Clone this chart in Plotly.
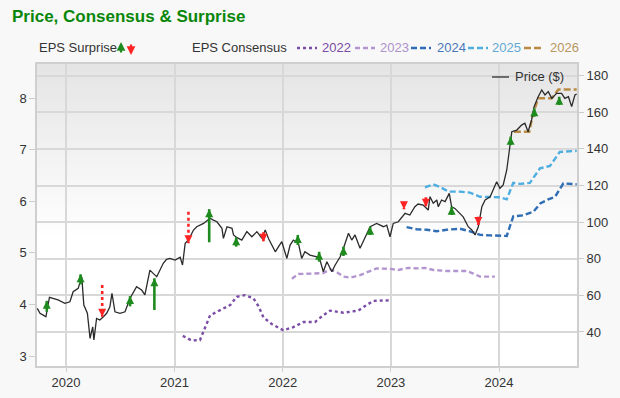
import plotly.graph_objects as go

# ---------------- data ----------------
price_dates = ["2019-09-26","2019-10-05","2019-10-16","2019-10-25","2019-11-06","2019-11-19","2019-12-05","2019-12-28",
 "2020-01-14","2020-01-25","2020-02-11","2020-02-23","2020-03-01","2020-03-13","2020-03-22","2020-03-31","2020-04-04",
 "2020-04-13","2020-04-24","2020-05-06","2020-05-17","2020-05-28","2020-06-04","2020-06-14","2020-07-01","2020-07-18",
 "2020-08-04","2020-08-26","2020-09-12","2020-09-23","2020-10-10","2020-10-21","2020-11-02","2020-11-24","2020-12-05",
 "2020-12-16","2021-01-03","2021-01-20","2021-01-28","2021-02-06","2021-02-17","2021-03-06","2021-03-17","2021-04-09",
 "2021-05-01","2021-05-12","2021-05-24","2021-06-10","2021-06-15","2021-06-27","2021-07-14","2021-07-19","2021-07-31",
 "2021-08-16","2021-09-02","2021-09-19","2021-10-06","2021-10-23","2021-11-03","2021-11-14","2021-11-26","2021-12-07",
 "2021-12-18","2021-12-29","2022-01-15","2022-01-26","2022-02-06","2022-02-23","2022-03-06","2022-03-17","2022-04-03",
 "2022-04-26","2022-05-07","2022-05-18","2022-05-30","2022-06-16","2022-06-27","2022-07-14","2022-07-25","2022-08-11",
 "2022-08-22","2022-09-02","2022-09-19","2022-10-06","2022-10-23","2022-11-14","2022-12-07","2022-12-18","2022-12-29",
 "2023-01-09","2023-01-26","2023-02-18","2023-03-06","2023-03-23","2023-04-03","2023-04-20","2023-05-07","2023-05-13",
 "2023-05-24","2023-06-05","2023-06-10","2023-06-21","2023-07-03","2023-07-17","2023-07-25","2023-08-05","2023-08-22",
 "2023-09-02","2023-09-19","2023-10-01","2023-10-12","2023-10-23","2023-11-04","2023-11-15","2023-12-02","2023-12-13",
 "2023-12-24","2024-01-04","2024-01-15","2024-01-27","2024-02-07","2024-02-13","2024-03-01","2024-03-17","2024-03-28",
 "2024-04-08","2024-04-20","2024-04-28","2024-05-12","2024-05-24","2024-06-04","2024-06-15","2024-06-27","2024-07-13",
 "2024-07-30","2024-08-10","2024-08-22","2024-09-02","2024-09-13","2024-09-19"]
price_values = [52.9,50.2,49.2,48.3,58.9,58.4,57.5,55.6,
 56.5,62.0,63.8,70.2,54.7,50.2,36.5,42.8,35.6,
 47.4,46.5,48.3,50.2,53.8,61.1,51.0,50.2,51.0,
 58.4,64.7,62.9,60.2,73.8,72.0,70.2,77.5,79.7,
 80.2,79.3,80.8,76.6,88.4,90.2,95.7,97.5,99.3,
 102.1,101.1,100.2,96.6,91.1,97.5,96.6,93.0,91.5,
 90.2,94.8,92.0,94.8,91.1,95.7,91.1,87.5,83.8,
 86.6,89.3,80.2,87.5,90.2,88.4,80.2,83.8,82.0,
 81.0,79.3,72.9,78.4,72.9,76.6,81.1,85.7,93.9,
 90.2,93.0,85.7,92.0,97.5,99.3,97.5,98.4,92.0,
 99.3,100.2,104.8,103.9,108.4,109.9,109.3,106.6,113.9,
 110.3,112.1,108.4,112.1,111.2,115.7,108.4,107.5,104.8,
 102.9,97.5,95.7,93.0,97.5,108.4,112.1,113.9,117.6,
 122.1,118.5,120.3,128.5,143.1,149.4,150.3,153.0,154.0,
 149.4,156.0,163.0,168.5,172.2,169.5,171.3,167.6,170.4,
 170.4,167.6,168.5,163.1,169.5,170.0]

surprise_dates = ["2019-10-28","2020-02-19","2020-05-02","2020-08-04","2020-10-25","2021-02-17","2021-04-28",
 "2021-07-28","2021-10-28","2022-02-21","2022-05-04","2022-07-25","2022-10-23","2023-02-14","2023-04-29",
 "2023-07-25","2023-10-23","2024-02-09","2024-04-29","2024-07-22"]
surprise_from = [51.0,66.0,65.6,54.0,52.0,105.7,89.0,86.6,94.5,87.5,78.4,81.5,93.0,111.1,113.6,103.9,102.9,142.1,157.6,164.0]
surprise_to = [57.0,71.5,48.3,59.6,69.3,88.4,107.1,91.7,89.3,93.0,83.8,86.6,97.5,107.0,108.4,108.4,98.4,146.7,162.2,168.5]

c2022_dates = ["2021-01-29","2021-02-28","2021-03-28","2021-04-14","2021-05-01","2021-06-04","2021-07-08","2021-07-30",
 "2021-08-27","2021-09-24","2021-10-11","2021-10-28","2021-11-25","2022-01-03","2022-02-06","2022-03-12","2022-04-20",
 "2022-05-18","2022-06-10","2022-07-25","2022-09-13","2022-10-06","2022-11-03","2022-12-29"]
c2022_values = [3.39,3.30,3.31,3.55,3.79,3.89,3.99,4.15,4.18,4.12,3.97,3.75,3.62,3.50,3.56,3.66,3.66,3.79,3.88,3.84,3.88,3.97,4.07,4.08]

c2023_dates = ["2022-02-01","2022-02-23","2022-04-14","2022-05-18","2022-06-10","2022-07-02","2022-07-25","2022-08-16",
 "2022-09-19","2022-10-23","2022-11-14","2022-12-29","2023-01-26","2023-03-01","2023-03-29","2023-04-26","2023-05-24",
 "2023-07-08","2023-09-14","2023-10-06","2023-10-29","2023-12-18"]
c2023_values = [4.50,4.59,4.60,4.61,4.68,4.63,4.54,4.52,4.57,4.65,4.70,4.69,4.67,4.71,4.70,4.71,4.67,4.65,4.65,4.60,4.54,4.54]

c2024_dates = ["2023-02-23","2023-03-29","2023-05-02","2023-06-05","2023-07-08","2023-08-22","2023-09-25","2023-10-29",
 "2023-12-01","2024-01-27","2024-02-18","2024-03-23","2024-04-26","2024-05-19","2024-06-15","2024-07-08","2024-08-05","2024-09-19"]
c2024_values = [5.50,5.46,5.45,5.42,5.45,5.47,5.42,5.35,5.34,5.33,5.71,5.73,5.80,5.96,6.04,6.09,6.35,6.33]

c2025_dates = ["2023-04-26","2023-05-24","2023-06-16","2023-07-14","2023-08-22","2023-09-25","2023-10-29","2023-12-01",
 "2024-01-04","2024-01-27","2024-02-18","2024-03-12","2024-04-14","2024-05-18","2024-06-21","2024-07-24","2024-09-19"]
c2025_values = [6.27,6.33,6.28,6.19,6.19,6.17,6.09,6.09,6.08,6.04,6.36,6.34,6.36,6.64,6.69,6.96,6.98]

c2026_dates = ["2024-02-20","2024-04-12","2024-04-24","2024-05-12","2024-06-27","2024-07-19","2024-09-19"]
c2026_values = [7.35,7.35,7.68,8.00,8.00,8.17,8.17]

eps_ticks = [3, 4, 5, 6, 7, 8]
price_ticks = [40, 60, 80, 100, 120, 140, 160, 180]
year_ticks = ["2020-01-01", "2021-01-01", "2022-01-01", "2023-01-01", "2024-01-01"]
year_labels = ["2020", "2021", "2022", "2023", "2024"]

# ---------------- styling ----------------
FONT = "Liberation Sans, Arial, sans-serif"
GREEN = "#1f8b1f"
RED = "#ff2424"
cons = [
    ("2022", c2022_dates, c2022_values, "#7a4ca5", "#7a4ca5", "dot"),
    ("2023", c2023_dates, c2023_values, "#b395d0", "#ad92cb", "5px,3px"),
    ("2024", c2024_dates, c2024_values, "#2f6db5", "#4a78b8", "6px,3px"),
    ("2025", c2025_dates, c2025_values, "#4eaee0", "#64a9d4", "6px,3px"),
    ("2026", c2026_dates, c2026_values, "#b98a44", "#b99561", "7px,3px"),
]

L, R, T, B = 37, 43, 64, 32
W, H = 620, 398
PW, PH = W - L - R, H - T - B
def px(x):
    return (x - L) / PW
def py(y):
    return (H - B - y) / PH

fig = go.Figure()

for name, d, v, col, tcol, dash in cons:
    fig.add_trace(go.Scatter(x=d, y=v, mode="lines", yaxis="y", line=dict(color=col, width=2.4, dash=dash),
                             showlegend=False, hoverinfo="skip"))

fig.add_trace(go.Scatter(x=price_dates, y=price_values, mode="lines", yaxis="y2",
                         line=dict(color="#2b2b2b", width=1.3), showlegend=False))

for d, a, b in zip(surprise_dates, surprise_from, surprise_to):
    up = b > a
    col = GREEN if up else RED
    fig.add_trace(go.Scatter(x=[d, d], y=[a, b], mode="lines", yaxis="y2",
                             line=dict(color=col, width=2.6, dash="solid" if up else "dot"),
                             showlegend=False, hoverinfo="skip"))
    fig.add_trace(go.Scatter(x=[d], y=[b], mode="markers", yaxis="y2",
                             marker=dict(symbol="arrow-up" if up else "arrow-down", size=8, angle=0,
                                         color=col, line=dict(width=0)),
                             showlegend=False, hoverinfo="skip"))

shapes = []
# vertical gray gradient in plot background
N = 40
top, bottom = 1.0, 0.42
for i in range(N):
    f = i / (N - 1)
    c = int(0xe5 + (0xff - 0xe5) * f)
    y1 = top - (top - bottom) * i / N
    y0 = top - (top - bottom) * (i + 1) / N
    shapes.append(dict(type="rect", xref="paper", yref="paper", x0=0, x1=1, y0=y0, y1=y1 + 0.002,
                       fillcolor=f"rgb({c},{c},{c})", line=dict(width=0), layer="below"))

annotations = [
    dict(text="<b>Price, Consensus & Surprise</b>", xref="paper", yref="paper", x=px(10), y=py(17),
         xanchor="left", yanchor="middle", showarrow=False, font=dict(family=FONT, size=17, color="#0a870a")),
    dict(text="EPS Surprise", xref="paper", yref="paper", x=px(37), y=py(48), xanchor="left", yanchor="middle",
         showarrow=False, font=dict(family=FONT, size=13, color="#333")),
    dict(text="", xref="paper", yref="paper", x=px(121), y=py(42), ax=0, ay=12, showarrow=True,
         arrowhead=2, arrowsize=0.8, arrowwidth=2.2, arrowcolor=GREEN),
    dict(text="", xref="paper", yref="paper", x=px(131), y=py(55), ax=0, ay=-12, showarrow=True,
         arrowhead=2, arrowsize=0.8, arrowwidth=2.2, arrowcolor=RED),
    dict(text="EPS Consensus", xref="paper", yref="paper", x=px(190), y=py(48), xanchor="left", yanchor="middle",
         showarrow=False, font=dict(family=FONT, size=13, color="#333")),
    dict(text="Price ($)", xref="paper", yref="paper", x=px(513), y=py(76), xanchor="left", yanchor="middle",
         showarrow=False, font=dict(family=FONT, size=13, color="#333")),
]
shapes.append(dict(type="line", xref="paper", yref="paper", x0=px(492), x1=px(509), y0=py(77), y1=py(77),
                   line=dict(color="#444", width=1.5)))

leg_pos = [(297, 320), (355, 378), (411, 435), (468, 490), (524, 548)]
for (name, d, v, col, tcol, dash), (lx, tx) in zip(cons, leg_pos):
    shapes.append(dict(type="line", xref="paper", yref="paper", x0=px(lx), x1=px(lx + 20), y0=py(48), y1=py(48),
                       line=dict(color=col, width=2.4, dash=dash)))
    annotations.append(dict(text=name, xref="paper", yref="paper", x=px(tx), y=py(48), xanchor="left",
                            yanchor="middle", showarrow=False, font=dict(family=FONT, size=13, color=tcol)))

fig.update_layout(
    width=W, height=H, margin=dict(l=L, r=R, t=T, b=B, autoexpand=False),
    paper_bgcolor="#f8f8f8", plot_bgcolor="#ffffff",
    font=dict(family=FONT, size=13, color="#333"),
    showlegend=False, shapes=shapes, annotations=annotations,
    xaxis=dict(type="date", range=["2019-09-25", "2024-09-20"], tickvals=year_ticks, ticktext=year_labels,
               showgrid=True, gridcolor="#d8d8d8", gridwidth=1.5, ticks="outside", ticklen=4, tickcolor="#d0d0d0",
               showline=True, linecolor="#cfcfcf", linewidth=1.5, mirror=True, zeroline=False,
               tickfont=dict(size=13, color="#333")),
    yaxis=dict(range=[2.806, 8.666], tickvals=eps_ticks, showgrid=False, zeroline=False, ticks="outside",
               ticklen=6, tickcolor="#cccccc", showline=True, linecolor="#cfcfcf", linewidth=1.5, mirror=True,
               tickfont=dict(size=13, color="#333")),
    yaxis2=dict(range=[21.4, 186.4], tickvals=price_ticks, overlaying="y", side="right", showgrid=True,
                gridcolor="#d8d8d8", gridwidth=1.5, zeroline=False, ticks="outside", ticklen=6,
                tickcolor="#cccccc", tickfont=dict(size=13, color="#333")),
)

fig.write_html("out.html", config={"displayModeBar": False},
               post_script="document.body.style.margin='0';document.body.style.background='#f8f8f8';")
